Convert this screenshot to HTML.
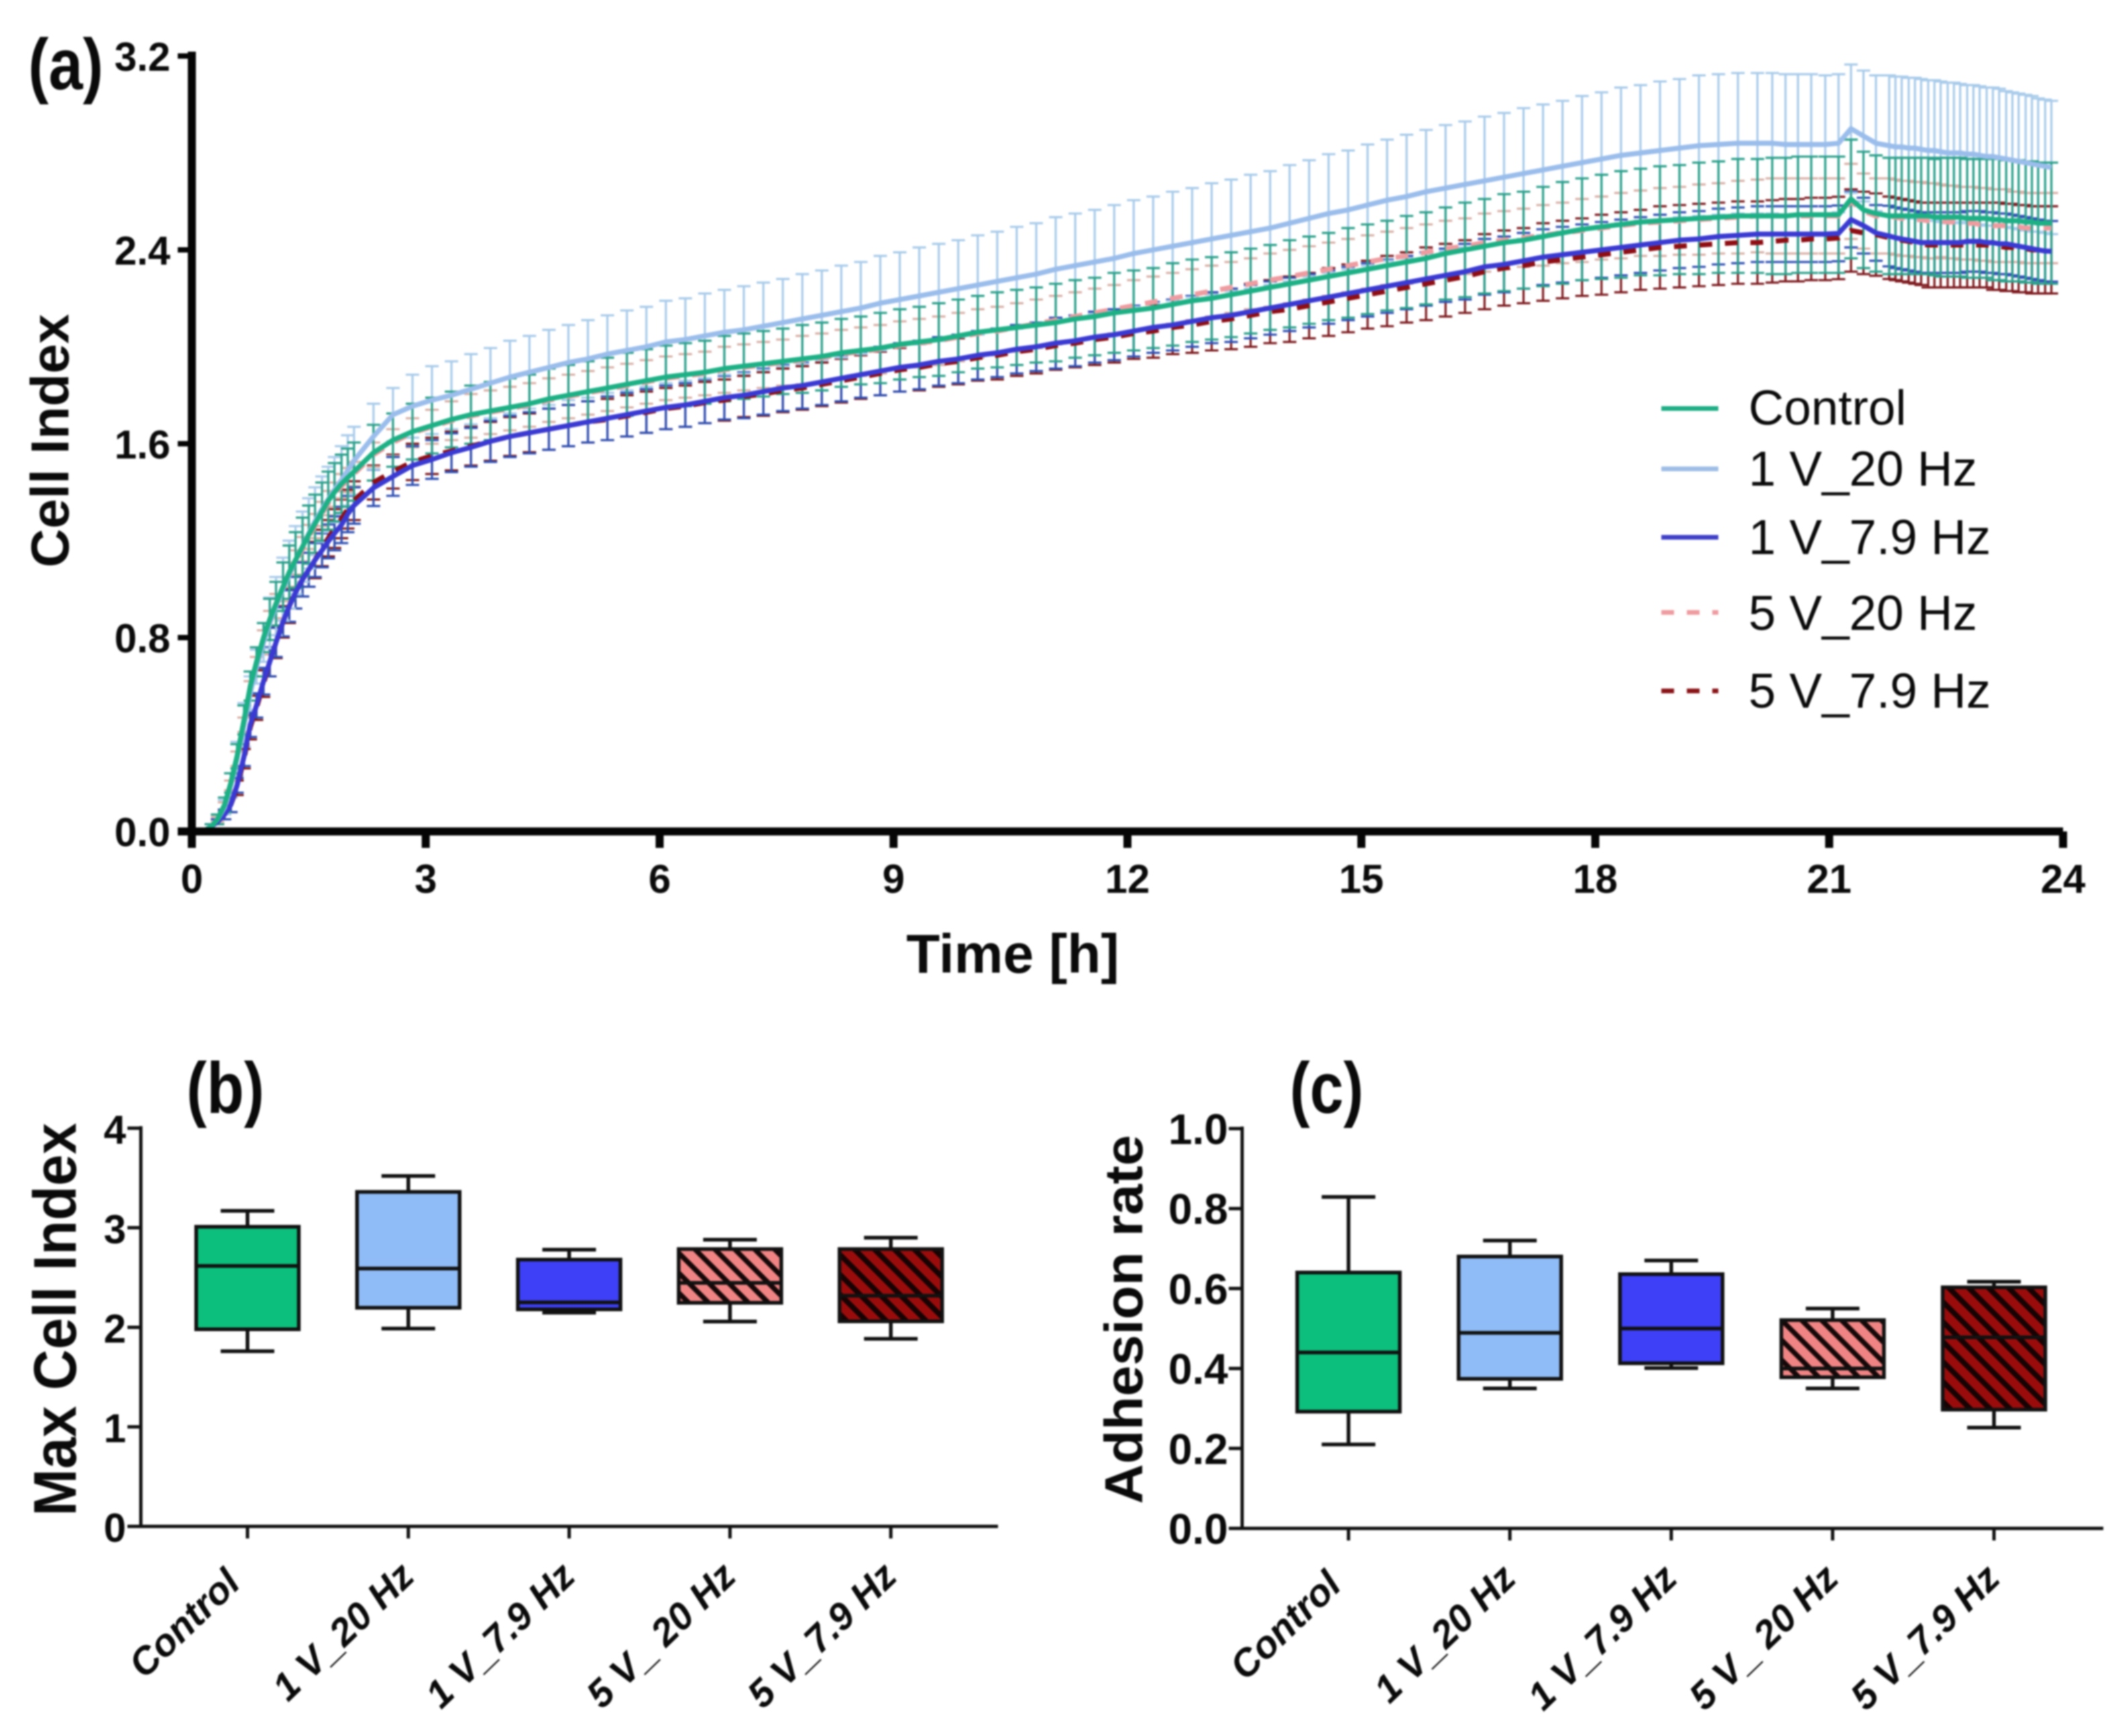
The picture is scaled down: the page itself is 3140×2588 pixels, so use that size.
<!DOCTYPE html>
<html lang="en">
<head>
<meta charset="utf-8">
<title>Cell Index, Max Cell Index and Adhesion rate</title>
<style>
  html,body{margin:0;padding:0;background:#fff;}
  #figure{display:block;width:3140px;height:2588px;filter:blur(1.3px);}
  text{font-family:"Liberation Sans",sans-serif;fill:#0a0a0a;}
  .b{font-weight:700;}
</style>
</head>
<body>
<svg id="figure" xmlns="http://www.w3.org/2000/svg" width="3140" height="2588" viewBox="0 0 3140 2588">
  <defs>
    <pattern id="hatch-light" width="21" height="21" patternUnits="userSpaceOnUse" patternTransform="rotate(-45)">
      <rect width="21" height="21" fill="#F08484"/>
      <rect width="7.5" height="21" fill="#160808"/>
    </pattern>
    <pattern id="hatch-dark" width="21" height="21" patternUnits="userSpaceOnUse" patternTransform="rotate(-45)">
      <rect width="21" height="21" fill="#9A0C0C"/>
      <rect width="8" height="21" fill="#170303"/>
    </pattern>
  </defs>
  <rect width="3140" height="2588" fill="#fff"/>

  <text class="b" x="98" y="133" font-size="108" text-anchor="middle" textLength="112" lengthAdjust="spacingAndGlyphs">(a)</text>
  <text class="b" x="336" y="1659" font-size="108" text-anchor="middle" textLength="116" lengthAdjust="spacingAndGlyphs">(b)</text>
  <text class="b" x="1978" y="1659" font-size="108" text-anchor="middle" textLength="110" lengthAdjust="spacingAndGlyphs">(c)</text>

  <g id="panel-a"></g>
  <text class="b" x="1510" y="1450" font-size="82" text-anchor="middle">Time [h]</text>
  <text class="b" transform="translate(102,657) rotate(-90)" font-size="80" text-anchor="middle">Cell Index</text>

  <g id="panel-b"></g>
  <text class="b" transform="translate(113,1967) rotate(-90)" font-size="90" text-anchor="middle" textLength="586" lengthAdjust="spacingAndGlyphs">Max Cell Index</text>

  <g id="panel-c"></g>
  <text class="b" transform="translate(1703,1967) rotate(-90)" font-size="80" text-anchor="middle" textLength="550" lengthAdjust="spacingAndGlyphs">Adhesion rate</text>

  <g id="legend">
    <g>
      <line x1="2477" x2="2562" y1="609" y2="609" stroke="#1FAE85" stroke-width="7"/>
      <text x="2607" y="633" font-size="73">Control</text>
    </g>
    <g>
      <line x1="2477" x2="2562" y1="699" y2="699" stroke="#9DBDE6" stroke-width="7"/>
      <text x="2607" y="724" font-size="73">1 V_20 Hz</text>
    </g>
    <g>
      <line x1="2477" x2="2562" y1="801" y2="801" stroke="#4040C8" stroke-width="7"/>
      <text x="2607" y="826" font-size="73">1 V_7.9 Hz</text>
    </g>
    <g>
      <line x1="2477" x2="2562" y1="913" y2="913" stroke="#EE9CA0" stroke-width="7" stroke-dasharray="19 19"/>
      <text x="2607" y="939" font-size="73">5 V_20 Hz</text>
    </g>
    <g>
      <line x1="2477" x2="2562" y1="1030" y2="1030" stroke="#8A1418" stroke-width="7" stroke-dasharray="19 19"/>
      <text x="2607" y="1055" font-size="73">5 V_7.9 Hz</text>
    </g>
  </g>
</svg>

<script>
// ---------- Panel (a) data ----------
const hours = [
  0,.08,.17,.25,.33,.42,.5,.58,.67,.75,.83,.92,1,1.08,1.17,1.25,1.33,1.42,1.5,1.58,1.67,1.75,1.83,1.92,2,2.08,
  2.33,2.58,2.83,3.08,3.33,3.58,3.83,4.08,4.33,4.58,
  4.83,5.08,5.33,5.58,5.83,6.08,6.33,6.58,6.83,7.08,
  7.33,7.58,7.83,8.08,8.33,8.58,8.83,9.08,9.33,9.58,
  9.83,10.08,10.33,10.58,10.83,11.08,11.33,11.58,11.83,12.08,
  12.33,12.58,12.83,13.08,13.33,13.58,13.83,14.08,14.33,14.58,
  14.83,15.08,15.33,15.58,15.83,16.08,16.33,16.58,16.83,17.08,
  17.33,17.58,17.83,18.08,18.33,18.58,18.83,19.08,19.33,19.58,
  19.83,20.08,
  20.27,20.44,20.6,20.77,20.95,21.12,21.28,21.44,21.6,
  21.77,21.85,21.93,22.02,22.1,22.18,22.27,22.35,22.43,22.52,22.6,22.68,22.77,22.85,22.93,23.02,23.1,23.18,23.27,23.35,23.43,23.52,23.6,23.68,23.77,23.85
];
const controlMean = [
  0,0,.005,.02,.05,.11,.2,.31,.46,.60,.70,.80,.875,.94,1.01,1.07,1.12,1.175,1.225,1.27,1.32,1.365,1.40,1.435,1.46,1.485,
  1.563,1.615,1.65,1.675,1.70,1.72,1.735,1.75,1.765,1.785,
  1.80,1.815,1.83,1.845,1.86,1.875,1.885,1.895,1.91,1.92,
  1.93,1.94,1.95,1.96,1.975,1.985,1.995,2.01,2.02,2.03,
  2.045,2.06,2.07,2.08,2.09,2.10,2.115,2.125,2.14,2.15,
  2.16,2.175,2.19,2.20,2.215,2.23,2.245,2.26,2.275,2.29,
  2.305,2.32,2.335,2.35,2.365,2.385,2.40,2.415,2.43,2.44,
  2.455,2.47,2.485,2.495,2.505,2.515,2.52,2.525,2.53,2.535,
  2.54,2.54,
  2.54,2.54,2.545,2.545,2.545,2.545,2.61,2.565,2.55,
  2.54,2.54,2.54,2.54,2.54,2.54,2.54,2.535,2.535,2.535,2.535,2.535,2.53,2.53,2.53,2.53,2.525,2.525,2.52,2.52,2.52,2.515,2.515,2.51,2.51,2.51
];
const controlSd = [
  0,0,0,.01,.02,.03,.04,.05,.06,.06,.06,.06,.085,.09,.10,.11,.115,.12,.12,.12,.12,.12,.12,.12,.12,.12,
  .115,.11,.115,.115,.115,.12,.12,.12,.12,.125,
  .125,.125,.125,.13,.13,.13,.13,.13,.135,.135,
  .135,.135,.14,.14,.14,.14,.145,.145,.145,.15,
  .15,.15,.155,.155,.155,.16,.16,.16,.165,.165,
  .165,.17,.17,.17,.175,.175,.175,.18,.18,.18,
  .185,.185,.185,.19,.19,.19,.195,.195,.20,.20,
  .205,.21,.21,.215,.22,.22,.225,.225,.23,.23,
  .235,.235,
  .24,.24,.24,.24,.24,.24,.245,.24,.24,
  .24,.24,.24,.24,.24,.24,.24,.24,.245,.245,.245,.245,.245,.245,.245,.245,.25,.25,.25,.25,.25,.25,.25,.25,.25,.25
];
const v1f20Mean = [
  0,0,.005,.02,.05,.10,.19,.30,.44,.57,.68,.78,.86,.93,1.0,1.06,1.12,1.175,1.23,1.28,1.33,1.37,1.41,1.45,1.49,1.53,
  1.63,1.72,1.755,1.78,1.80,1.825,1.85,1.875,1.895,1.915,
  1.935,1.95,1.97,1.985,2.00,2.02,2.03,2.045,2.06,2.07,
  2.085,2.10,2.115,2.13,2.145,2.16,2.18,2.195,2.21,2.225,
  2.24,2.255,2.27,2.285,2.30,2.32,2.335,2.35,2.365,2.385,
  2.40,2.415,2.43,2.445,2.46,2.475,2.49,2.51,2.53,2.55,
  2.565,2.585,2.605,2.62,2.64,2.655,2.67,2.685,2.70,2.715,
  2.73,2.745,2.76,2.775,2.79,2.80,2.81,2.82,2.83,2.835,
  2.84,2.84,
  2.84,2.835,2.835,2.835,2.835,2.84,2.90,2.87,2.84,
  2.83,2.825,2.825,2.82,2.82,2.815,2.81,2.81,2.805,2.80,2.80,2.80,2.795,2.795,2.79,2.785,2.785,2.78,2.775,2.77,2.765,2.76,2.755,2.75,2.745,2.74
];
const v1f20Sd = [
  0,0,0,.01,.02,.03,.05,.07,.09,.07,.07,.08,.105,.12,.13,.14,.14,.145,.145,.14,.135,.135,.135,.14,.145,.14,
  .135,.11,.13,.14,.14,.145,.145,.15,.15,.155,
  .155,.16,.16,.165,.165,.17,.17,.175,.175,.18,
  .18,.18,.185,.185,.19,.19,.195,.195,.20,.20,
  .20,.205,.205,.21,.21,.215,.215,.215,.22,.22,
  .22,.225,.225,.23,.23,.235,.235,.24,.24,.245,
  .245,.25,.25,.255,.255,.26,.26,.265,.265,.27,
  .27,.27,.275,.275,.28,.28,.285,.285,.29,.29,
  .29,.29,
  .29,.29,.29,.29,.285,.285,.265,.27,.28,
  .29,.29,.29,.29,.29,.29,.29,.29,.29,.29,.29,.285,.285,.285,.285,.285,.285,.285,.28,.28,.28,.28,.28,.275,.275,.275
];
const v1f79Mean = [
  0,0,.005,.02,.04,.07,.11,.19,.31,.44,.52,.62,.70,.78,.865,.93,.985,1.04,1.08,1.12,1.16,1.197,1.23,1.265,1.31,1.345,
  1.418,1.465,1.51,1.535,1.563,1.585,1.61,1.63,1.645,1.66,
  1.675,1.69,1.705,1.72,1.735,1.75,1.76,1.775,1.79,1.80,
  1.815,1.83,1.84,1.855,1.87,1.885,1.90,1.915,1.925,1.94,
  1.95,1.965,1.975,1.99,2.00,2.015,2.025,2.04,2.05,2.065,
  2.08,2.09,2.105,2.12,2.13,2.145,2.16,2.175,2.19,2.205,
  2.22,2.235,2.25,2.265,2.28,2.295,2.31,2.33,2.34,2.355,
  2.37,2.38,2.39,2.40,2.41,2.42,2.43,2.44,2.445,2.455,
  2.46,2.465,
  2.465,2.465,2.465,2.465,2.465,2.468,2.525,2.50,2.47,
  2.457,2.45,2.445,2.44,2.435,2.43,2.43,2.43,2.43,2.43,2.43,2.43,2.435,2.435,2.435,2.43,2.43,2.425,2.425,2.42,2.415,2.41,2.405,2.40,2.395,2.394
];
const v1f79Sd = [
  0,0,0,.01,.01,.02,.03,.03,.04,.05,.05,.055,.06,.06,.06,.065,.065,.07,.07,.07,.07,.07,.07,.075,.075,.075,
  .075,.08,.08,.08,.08,.08,.085,.085,.085,.085,
  .085,.085,.09,.09,.09,.09,.09,.09,.09,.095,
  .095,.095,.095,.095,.095,.095,.10,.10,.10,.10,
  .10,.10,.10,.10,.10,.105,.105,.105,.105,.105,
  .105,.105,.105,.105,.11,.11,.11,.11,.11,.11,
  .11,.11,.11,.11,.11,.11,.115,.115,.115,.115,
  .115,.115,.115,.115,.115,.115,.115,.115,.115,.115,
  .115,.115,
  .115,.115,.115,.115,.115,.115,.115,.115,.115,
  .125,.125,.125,.125,.125,.125,.125,.125,.125,.125,.125,.125,.125,.125,.125,.125,.125,.125,.125,.125,.125,.125,.125,.125,.125,.125
];
const v5f20Mean = [
  0,0,.005,.02,.05,.10,.19,.30,.44,.58,.68,.78,.86,.93,1.0,1.06,1.11,1.165,1.215,1.26,1.31,1.355,1.39,1.425,1.45,1.475,
  1.555,1.605,1.645,1.67,1.695,1.715,1.73,1.745,1.76,1.78,
  1.795,1.81,1.825,1.84,1.855,1.87,1.88,1.89,1.905,1.915,
  1.925,1.935,1.945,1.955,1.97,1.98,1.99,2.005,2.015,2.025,
  2.04,2.055,2.065,2.08,2.095,2.11,2.125,2.14,2.155,2.17,
  2.185,2.20,2.215,2.23,2.245,2.26,2.275,2.29,2.305,2.32,
  2.335,2.35,2.365,2.375,2.39,2.405,2.415,2.43,2.44,2.45,
  2.46,2.47,2.48,2.49,2.50,2.51,2.515,2.52,2.525,2.53,
  2.535,2.54,
  2.54,2.54,2.54,2.54,2.54,2.54,2.60,2.56,2.54,
  2.54,2.535,2.53,2.53,2.525,2.525,2.52,2.52,2.52,2.515,2.515,2.51,2.51,2.51,2.505,2.505,2.50,2.50,2.50,2.495,2.495,2.49,2.49,2.49,2.49,2.49
];
const v5f20Sd = [
  0,0,0,.01,.01,.02,.02,.03,.03,.04,.04,.05,.05,.05,.05,.05,.05,.05,.05,.05,.05,.05,.05,.05,.05,.05,
  .05,.055,.06,.07,.08,.09,.09,.09,.09,.09,
  .09,.09,.09,.09,.09,.09,.09,.09,.095,.095,
  .095,.095,.10,.10,.10,.10,.10,.10,.10,.10,
  .10,.10,.10,.10,.10,.10,.10,.10,.10,.105,
  .105,.105,.105,.105,.105,.105,.11,.11,.11,.11,
  .11,.11,.11,.115,.115,.115,.115,.12,.12,.12,
  .125,.125,.13,.13,.135,.135,.14,.14,.145,.145,
  .15,.15,
  .155,.155,.155,.155,.155,.155,.155,.155,.155,
  .155,.155,.155,.155,.155,.155,.155,.155,.15,.15,.15,.15,.15,.15,.15,.15,.15,.15,.15,.145,.145,.145,.145,.145,.145,.145
];
const v5f79Mean = [
  0,0,.005,.02,.04,.07,.11,.18,.30,.43,.51,.61,.70,.78,.865,.93,.99,1.04,1.08,1.12,1.17,1.21,1.25,1.29,1.33,1.365,
  1.44,1.485,1.525,1.55,1.57,1.59,1.61,1.63,1.645,1.66,
  1.675,1.69,1.70,1.715,1.73,1.745,1.755,1.77,1.78,1.795,
  1.805,1.82,1.83,1.845,1.86,1.875,1.89,1.905,1.915,1.93,
  1.94,1.955,1.965,1.98,1.99,2.005,2.015,2.03,2.04,2.055,
  2.065,2.08,2.09,2.105,2.115,2.13,2.145,2.155,2.17,2.185,
  2.20,2.215,2.23,2.245,2.26,2.275,2.29,2.31,2.325,2.335,
  2.35,2.36,2.37,2.38,2.39,2.40,2.41,2.415,2.42,2.425,
  2.43,2.43,
  2.435,2.44,2.44,2.445,2.445,2.449,2.48,2.47,2.463,
  2.45,2.445,2.44,2.435,2.43,2.425,2.42,2.42,2.42,2.42,2.42,2.42,2.42,2.42,2.42,2.42,2.415,2.415,2.41,2.41,2.405,2.405,2.40,2.40,2.40,2.40
];
const v5f79Sd = [
  0,0,0,.01,.01,.02,.03,.03,.04,.05,.05,.055,.06,.065,.065,.07,.07,.07,.07,.075,.075,.075,.08,.08,.08,.08,
  .07,.07,.075,.075,.08,.08,.08,.08,.08,.085,
  .085,.085,.085,.085,.085,.085,.085,.085,.085,.085,
  .09,.09,.09,.09,.09,.09,.09,.09,.095,.095,
  .095,.095,.10,.10,.10,.10,.10,.105,.105,.105,
  .11,.11,.115,.12,.125,.13,.13,.135,.135,.14,
  .14,.14,.145,.145,.15,.15,.15,.155,.155,.155,
  .16,.16,.16,.165,.165,.165,.17,.17,.17,.17,
  .17,.17,
  .17,.17,.17,.17,.17,.17,.17,.17,.17,
  .17,.17,.17,.17,.17,.17,.175,.175,.175,.175,.175,.175,.175,.175,.175,.175,.18,.18,.18,.18,.18,.18,.18,.18,.18,.18
];
const xTickLabelsA = ['0','3','6','9','12','15','18','21','24'];
const yTickLabelsA = ['0.0','0.8','1.6','2.4','3.2'];

// ---------- Panels (b), (c) data ----------
const groups = ['Control','1 V_20 Hz','1 V_7.9 Hz','5 V_ 20 Hz','5 V_7.9 Hz'];
const maxHi  = [3.17,3.52,2.78,2.88,2.90];
const maxQ3  = [3.01,3.36,2.68,2.786,2.786];
const maxMed = [2.616,2.59,2.25,2.446,2.317];
const maxQ1  = [1.98,2.196,2.18,2.246,2.06];
const maxLo  = [1.76,1.987,2.147,2.058,1.884];
const maxTicks = ['0','1','2','3','4'];
const adhHi  = [.829,.72,.67,.55,.617];
const adhQ3  = [.64,.68,.636,.521,.603];
const adhMed = [.44,.489,.50,.40,.478];
const adhQ1  = [.292,.374,.413,.378,.297];
const adhLo  = [.21,.35,.401,.35,.252];
const adhTicks = ['0.0','0.2','0.4','0.6','0.8','1.0'];

const NS = 'http://www.w3.org/2000/svg';
function mk(parent, tag, attrs, txt){
  const el = document.createElementNS(NS, tag);
  for (const k in attrs) el.setAttribute(k, attrs[k]);
  if (txt !== undefined) el.textContent = txt;
  parent.appendChild(el);
  return el;
}

// ---------- Panel (a) ----------
const xA = t => 286 + t * 116.25;
const yA = v => 1239.5 - v * 361.25;
const panelA = document.getElementById('panel-a');
const seriesList = [
  {id:'5v-7-9hz', mean:v5f79Mean, sd:v5f79Sd, line:'#8E0E14', bar:'#7E1A1E', dash:'19 19'},
  {id:'5v-20hz',  mean:v5f20Mean, sd:v5f20Sd, line:'#EE9CA0', bar:'#D8B0A6', dash:'19 19'},
  {id:'1v-7-9hz', mean:v1f79Mean, sd:v1f79Sd, line:'#3A3AD2', bar:'#2F50B4', dash:null},
  {id:'1v-20hz',  mean:v1f20Mean, sd:v1f20Sd, line:'#9ABDEB', bar:'#A8CBEA', dash:null},
  {id:'control',  mean:controlMean, sd:controlSd, line:'#1DB085', bar:'#2AA08A', dash:null}
];
seriesList.forEach(s => {
  const g = mk(panelA, 'g', {});
  
  
  hours.forEach((t, i) => {
    const x = xA(t), m = s.mean[i], d = s.sd[i];
    const top = yA(m + d), bot = yA(m - d);
    const bar = mk(g, 'path', {
      d: 'M' + x + ' ' + top + 'V' + bot + 'M' + (x - 10) + ' ' + top + 'H' + (x + 10) + 'M' + (x - 10) + ' ' + bot + 'H' + (x + 10),
      fill: 'none', stroke: s.bar, 'stroke-width': 3.2
    });
    
    
  });
});
seriesList.forEach(s => {
  const pts = hours.map((t, i) => xA(t) + ',' + yA(s.mean[i])).join(' ');
  const attrs = {points: pts, fill: 'none', stroke: s.line, 'stroke-width': 7.5, 'stroke-linejoin': 'round'};
  if (s.dash) attrs['stroke-dasharray'] = s.dash;
  const line = mk(panelA, 'polyline', attrs);
  
  
});

const axAy = mk(panelA, 'line', {x1:286, x2:286, y1:77, y2:1246, stroke:'#050505', 'stroke-width':12});


const axAx = mk(panelA, 'line', {x1:265, x2:3076, y1:1239.5, y2:1239.5, stroke:'#050505', 'stroke-width':12});


yTickLabelsA.forEach(lab => {
  const y = yA(parseFloat(lab));
  const tk = mk(panelA, 'line', {x1:265, x2:286, y1:y, y2:y, stroke:'#050505', 'stroke-width':8});
  
  
  const tx = mk(panelA, 'text', {x:254, y:y + 22, 'font-size':60, 'font-weight':700, 'text-anchor':'end'}, lab);
  
  
});
xTickLabelsA.forEach(lab => {
  const x = xA(parseFloat(lab));
  const tk = mk(panelA, 'line', {x1:x, x2:x, y1:1239.5, y2:1264, stroke:'#050505', 'stroke-width':12});
  
  
  const tx = mk(panelA, 'text', {x:x, y:1331, 'font-size':60, 'font-weight':700, 'text-anchor':'middle'}, lab);
  
  
});

// ---------- Box panels ----------
const boxFills = ['#0CBF7C','#8FBBF6','#3D40F6','url(#hatch-light)','url(#hatch-dark)'];
function boxPanel(cfg){
  const root = document.getElementById(cfg.id);
  const yS = v => cfg.y0 - v * cfg.k;
  const spineY = mk(root, 'line', {x1:cfg.spineX, x2:cfg.spineX, y1:yS(cfg.top) - 3, y2:cfg.y0 + 2, stroke:'#111', 'stroke-width':5});
  
  
  const spineX = mk(root, 'line', {x1:cfg.spineX - 20, x2:cfg.xEnd, y1:cfg.y0, y2:cfg.y0, stroke:'#111', 'stroke-width':5});
  
  
  cfg.ticks.forEach(lab => {
    const y = yS(parseFloat(lab));
    const tk = mk(root, 'line', {x1:cfg.spineX - 20, x2:cfg.spineX, y1:y, y2:y, stroke:'#111', 'stroke-width':5});
    
    
    const tx = mk(root, 'text', {x:cfg.labelX, y:y + 23, 'font-size':cfg.tickFont, 'font-weight':700, 'text-anchor':'end'}, lab);
    
    
  });
  groups.forEach((name, i) => {
    const x = cfg.x0 + i * cfg.step;
    const w = 153;
    const g = mk(root, 'g', {});
    
    
    mk(g, 'path', {
      d: 'M' + x + ' ' + yS(cfg.hi[i]) + 'V' + yS(cfg.q3[i]) + 'M' + x + ' ' + yS(cfg.q1[i]) + 'V' + yS(cfg.lo[i]) +
         'M' + (x - 40) + ' ' + yS(cfg.hi[i]) + 'H' + (x + 40) + 'M' + (x - 40) + ' ' + yS(cfg.lo[i]) + 'H' + (x + 40),
      fill: 'none', stroke: '#111', 'stroke-width': 5.5
    });
    mk(g, 'rect', {x:x - w / 2, y:yS(cfg.q3[i]), width:w, height:yS(cfg.q1[i]) - yS(cfg.q3[i]), fill:boxFills[i], stroke:'#111', 'stroke-width':5.5});
    mk(g, 'line', {x1:x - w / 2, x2:x + w / 2, y1:yS(cfg.med[i]), y2:yS(cfg.med[i]), stroke:'#111', 'stroke-width':5.5});
    const tk = mk(root, 'line', {x1:x, x2:x, y1:cfg.y0, y2:cfg.y0 + 18, stroke:'#111', 'stroke-width':5});
    
    
    const lx = x + (i === 0 ? -8 : 12);
    const ly = cfg.y0 + (i === 0 ? 88 : 78);
    const tx = mk(root, 'text', {
      transform: 'translate(' + lx + ',' + ly + ') rotate(-44)',
      'font-size': 57, 'font-weight': 700, 'font-style': 'italic', 'text-anchor': 'end'
    }, name);
    
    
  });
}
boxPanel({id:'panel-b', y0:2275.5, k:148.4, top:4, spineX:210, xEnd:1488, x0:369, step:239.8, labelX:188, tickFont:60,
  ticks:maxTicks, hi:maxHi, q3:maxQ3, med:maxMed, q1:maxQ1, lo:maxLo});
boxPanel({id:'panel-c', y0:2278.5, k:596, top:1, spineX:1852, xEnd:3136, x0:2010.6, step:240.6, labelX:1831, tickFont:64,
  ticks:adhTicks, hi:adhHi, q3:adhQ3, med:adhMed, q1:adhQ1, lo:adhLo});
</script>
</body>
</html>
